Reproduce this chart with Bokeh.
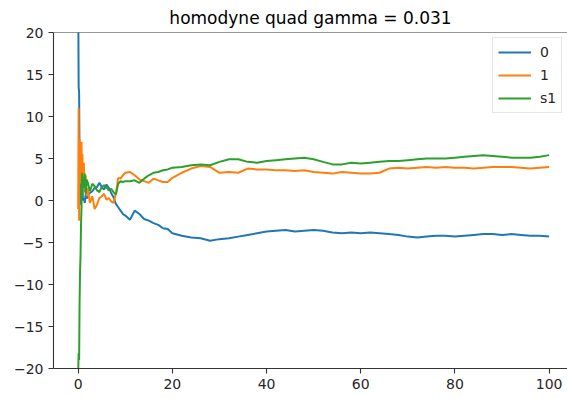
from bokeh.plotting import figure
from bokeh.models import Range1d, FixedTicker, Span, Legend, LegendItem
from bokeh.embed import file_html
from bokeh.resources import INLINE

title_text = "homodyne quad gamma = 0.031"

t = [0, 0.1, 0.2, 0.3, 0.4, 0.5, 0.6, 0.7, 0.8, 0.9, 1.0, 1.2, 1.4, 1.6, 1.8, 2.0,
     2.5, 3.0, 3.5, 4.0, 4.5, 5.0, 5.5, 6.0, 6.5, 7.0, 7.5, 8.0, 8.5, 9.0, 9.5, 10,
     11, 12, 13, 14, 15, 16, 17, 18, 19, 20,
     22, 24, 26, 28, 30, 32, 34, 36, 38, 40, 42, 44, 46, 48, 50, 52, 54, 56, 58, 60,
     62, 64, 66, 68, 70, 72, 74, 76, 78, 80, 82, 84, 86, 88, 90, 92, 94, 96, 98, 100]

series_0 = [25, 13.5, 12.8, 4.0, 1.0, -0.5, 2.0, 3.2, 0.5, 1.5, 0.0, 0.3, -0.3, 0.8, 0.2, 0.6,
            0.9, 1.1, 1.5, 1.6, 2.1, 1.6, 1.3, 1.9, 1.5, 0.9, 0.4, -0.4, -0.8, -1.2, -1.6, -1.8,
            -2.3, -1.2, -1.6, -2.2, -2.4, -2.7, -2.9, -3.3, -3.4, -3.9,
            -4.2, -4.4, -4.5, -4.8, -4.6, -4.5, -4.3, -4.1, -3.9, -3.7, -3.6, -3.5, -3.7, -3.6,
            -3.5, -3.6, -3.8, -3.9, -3.8, -3.9,
            -3.8, -3.9, -4.0, -4.1, -4.3, -4.4, -4.3, -4.2, -4.2, -4.3, -4.2, -4.1, -4.0, -4.0,
            -4.1, -4.0, -4.1, -4.2, -4.2, -4.3]

series_1 = [-1.0, 11.0, -2.4, 7.3, 2.0, 6.5, 4.0, 7.0, 3.0, 5.5, 2.5, 4.5, 1.0, 3.0, 0.5, 1.5,
            -0.3, 0.5, -1.0, -0.5, 0.3, 0.5, 0.8, 0.1, 0.3, -0.1, -0.3, 0.8, 2.7, 2.6, 3.0, 3.3,
            3.4, 3.0, 2.5, 2.3, 2.1, 2.6, 2.4, 2.2, 2.2, 2.7,
            3.3, 3.8, 4.1, 4.0, 3.3, 3.4, 3.3, 3.8, 3.7, 3.7, 3.6, 3.6, 3.5, 3.6,
            3.4, 3.3, 3.2, 3.4, 3.3, 3.2,
            3.2, 3.3, 3.8, 3.9, 3.8, 3.9, 4.0, 3.9, 4.0, 3.9, 3.9, 3.8, 3.9, 4.0,
            4.0, 4.0, 3.9, 3.8, 3.9, 4.0]

series_s1 = [-20.5, -18.2, -19.0, -12.0, -8.5, -6.5, -3.0, -1.0, 3.3, 0.5, 2.8, 1.5, 3.2, 0.8, 2.5, 2.2,
             1.1, 2.0, 1.7, 1.2, 1.0, 1.6, 1.8, 1.6, 1.2, 1.4, 1.0, 0.7, 2.0, 2.3, 2.2, 2.3,
             2.3, 2.4, 2.1, 2.6, 3.0, 3.3, 3.4, 3.6, 3.7, 3.9,
             4.0, 4.2, 4.3, 4.2, 4.6, 4.9, 4.9, 4.6, 4.5, 4.7, 4.8, 4.9, 5.0, 5.1,
             4.9, 4.6, 4.3, 4.3, 4.5, 4.4,
             4.5, 4.6, 4.7, 4.7, 4.8, 4.9, 5.0, 5.0, 5.0, 5.1, 5.2, 5.3, 5.4, 5.3,
             5.2, 5.1, 5.1, 5.1, 5.2, 5.4]

series_names = ["0", "1", "s1"]
series_colors = ["#1f77b4", "#ff7f0e", "#2ca02c"]

x_ticks = [0, 20, 40, 60, 80, 100]
y_ticks = [-20, -15, -10, -5, 0, 5, 10, 15, 20]
y_tick_labels = ["\u221220", "\u221215", "\u221210", "\u22125", "0", "5", "10", "15", "20"]

p = figure(width=567, height=398, output_backend="svg", toolbar_location=None,
           x_range=Range1d(-5.24, 103.9), y_range=Range1d(-20, 20),
           min_border_left=53, min_border_right=0, min_border_top=31, min_border_bottom=30)

p.title.text = title_text
p.title.align = "center"
p.title.text_font = "DejaVu Sans"
p.title.text_font_size = "17px"
p.title.text_font_style = "normal"
p.title.text_color = "#000000"

p.grid.visible = False
p.outline_line_color = None
p.background_fill_color = "white"
p.border_fill_color = "white"

for ax in (p.xaxis[0], p.yaxis[0]):
    ax.axis_line_color = "#333333"
    ax.axis_line_width = 1.1
    ax.major_tick_line_color = "#333333"
    ax.major_tick_line_width = 1.1
    ax.major_tick_out = 5
    ax.major_tick_in = 0
    ax.minor_tick_out = 0
    ax.minor_tick_in = 0
    ax.major_label_text_font = "DejaVu Sans"
    ax.major_label_text_font_size = "14px"
    ax.major_label_text_color = "#262626"
    ax.major_label_standoff = 5

p.xaxis[0].ticker = FixedTicker(ticks=x_ticks)
p.yaxis[0].ticker = FixedTicker(ticks=y_ticks)
p.yaxis[0].major_label_overrides = {v: s for v, s in zip(y_ticks, y_tick_labels)}

p.add_layout(Span(location=20, dimension="width", line_color="#333333", line_width=1.1))

items = []
for ys, name, col in zip([series_0, series_1, series_s1], series_names, series_colors):
    r = p.line(t, ys, line_color=col, line_width=2)
    items.append(LegendItem(label=name, renderers=[r]))

legend = Legend(items=items, location=(439, 255), margin=0,
                padding=5, spacing=5, glyph_height=18, glyph_width=33,
                label_height=18, label_standoff=9, label_width=16,
                label_text_font="DejaVu Sans", label_text_font_size="14px",
                label_text_color="#262626",
                border_line_color="#cccccc", border_line_width=1,
                background_fill_alpha=0.8)
p.add_layout(legend)

open("out.html", "w").write(file_html(p, INLINE))
